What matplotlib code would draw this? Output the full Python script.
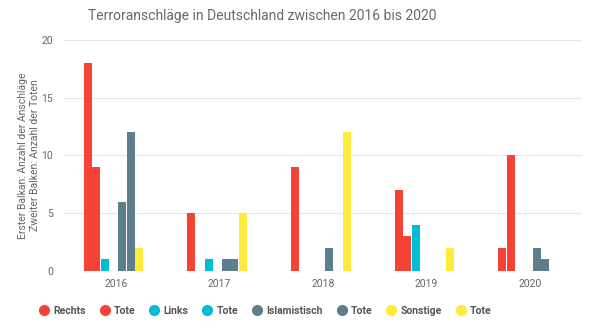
import matplotlib
matplotlib.use("Agg")
import matplotlib.pyplot as plt
from matplotlib.lines import Line2D
import numpy as np

plt.rcParams['font.family'] = ['Roboto', 'DejaVu Sans']

years = ["2016", "2017", "2018", "2019", "2020"]
series_names = ["Rechts", "Tote", "Links", "Tote", "Islamistisch", "Tote", "Sonstige", "Tote"]
series_colors = ["#F44336", "#F44336", "#00BCD4", "#00BCD4",
                 "#607D8B", "#607D8B", "#FFEB3B", "#FFEB3B"]

rechts = [18, 5, 9, 7, 2]
rechts_tote = [9, 0, 0, 3, 10]
links = [1, 1, 0, 4, 0]
links_tote = [0, 0, 0, 0, 0]
islamistisch = [6, 1, 2, 0, 2]
islamistisch_tote = [12, 1, 0, 0, 1]
sonstige = [2, 5, 12, 2, 0]
sonstige_tote = [0, 0, 0, 0, 0]

series_values = [rechts, rechts_tote, links, links_tote,
                 islamistisch, islamistisch_tote, sonstige, sonstige_tote]

fig = plt.figure(figsize=(5.9, 3.35), dpi=100)
ax = fig.add_axes([0.1085, 0.191, 0.878, 0.690])

x = np.arange(len(years))
n = len(series_values)
width = 0.077
gap = 0.006
for i, (vals, col) in enumerate(zip(series_values, series_colors)):
    offs = (i - (n - 1) / 2) * (width + gap) + 0.02
    ax.bar(x + offs, vals, width=width, color=col, zorder=3)

ax.set_xlim(-0.5, 4.5)
ax.set_ylim(0, 20)
ax.set_yticks([0, 5, 10, 15, 20])
ax.set_xticks(x)
ax.set_xticklabels(years)
ax.grid(axis='y', color='#e6e6e6', linewidth=0.8, zorder=0)
for s in ax.spines.values():
    s.set_visible(False)
ax.tick_params(axis='both', length=0, labelsize=7.5, colors='#666666')
ax.tick_params(axis='y', pad=8)
ax.tick_params(axis='x', pad=6)
ax.axhline(0, color='#dddddd', linewidth=0.8, zorder=2)

ax.set_ylabel("Erster Balkan: Anzahl der Anschläge\nZweiter Balken: Anzahl der Toten",
              fontsize=7.5, color='#666666', linespacing=1.2)
ax.yaxis.set_label_coords(-0.047, 0.5)

fig.text(0.444, 0.952, "Terroranschläge in Deutschland zwischen 2016 bis 2020",
         ha='center', va='center', fontsize=10, color='#5f6b73')

handles = [Line2D([], [], marker='o', linestyle='none', markersize=7,
                  markerfacecolor=c, markeredgecolor=c) for c in series_colors]
leg = fig.legend(handles, series_names, loc='center', bbox_to_anchor=(0.447, 0.072),
                 ncol=8, frameon=False, fontsize=7.5, handletextpad=0.1,
                 columnspacing=1.1, handlelength=1.5)
for t in leg.get_texts():
    t.set_color('#555555')
    t.set_fontweight('semibold')

fig.savefig("out.png", dpi=100)
